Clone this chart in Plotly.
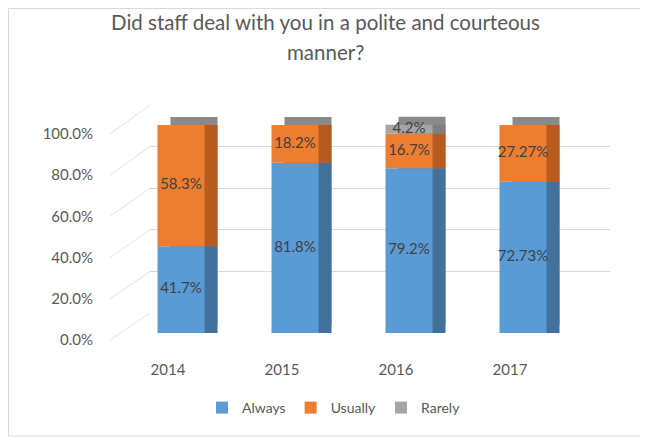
import plotly.graph_objects as go

years = ["2014", "2015", "2016", "2017"]
always = [41.7, 81.8, 79.2, 72.73]
usually = [58.3, 18.2, 16.7, 27.27]
rarely = [0.0, 0.0, 4.2, 0.0]
label_decimals = [1, 1, 1, 2]
series_names = ["Always", "Usually", "Rarely"]
y_ticks = [0, 20, 40, 60, 80, 100]

front_colors = ["#5b9bd5", "#ed7d31", "#a5a5a5"]
side_colors = ["#41719c", "#b85b1f", "#7f7f7f"]
top_color = "#8a8a8a"
FONT = "Lato"
TXT = "#595959"

# the page body has an 8px margin, so the figure is drawn at (8, 8)
OFF = 8
W, H = 648 - OFF, 437 - OFF
def fx(px): return (px - OFF) / W
def fy(py): return 1 - (py - OFF) / H

# pixel geometry (layout only, in window pixels)
CAT_PX = 114.0
BAR_PX = 47.0
Y_PX = 2.08          # px per percent on the bar plane
DX_PX, DY_PX = 13.0, 8.0
bar_w = BAR_PX / CAT_PX
dx = DX_PX / CAT_PX
dy = DY_PX / Y_PX

series = [always, usually, rarely]
n = len(years)
bases = []
cum = [0.0] * n
for s in series:
    bases.append(cum[:])
    cum = [c + v for c, v in zip(cum, s)]
totals = cum

fig = go.Figure()

# back wall subplot (x / y): gridlines only
fig.add_trace(go.Scatter(x=[], y=[], xaxis="x", yaxis="y", showlegend=False, hoverinfo="skip"))

# top faces (back copy of whole stack, shifted right and up)
fig.add_trace(go.Bar(
    x=years, y=totals, base=[dy] * n, width=bar_w, offset=-bar_w / 2 + dx,
    marker=dict(color=top_color, line=dict(width=0)), xaxis="x2", yaxis="y2",
    showlegend=False, hoverinfo="skip"))
# side faces
for s, b, c in zip(series, bases, side_colors):
    fig.add_trace(go.Bar(
        x=years, y=s, base=b, width=bar_w, offset=-bar_w / 2 + dx,
        marker=dict(color=c, line=dict(width=0)), xaxis="x2", yaxis="y2",
        showlegend=False, hoverinfo="skip"))
# front faces
for name, s, b, c in zip(series_names, series, bases, front_colors):
    fig.add_trace(go.Bar(
        x=years, y=s, base=b, width=bar_w, offset=-bar_w / 2,
        marker=dict(color=c, line=dict(width=0)), xaxis="x2", yaxis="y2",
        name=name, showlegend=True))

# data labels
lx, ly, lt = [], [], []
for s, b in zip(series, bases):
    for i in range(n):
        if s[i] > 0:
            lx.append(years[i])
            ly.append(b[i] + s[i] / 2)
            lt.append(f"{s[i]:.{label_decimals[i]}f}%")
fig.add_trace(go.Scatter(
    x=lx, y=ly, text=lt, mode="text", xaxis="x2", yaxis="y2",
    textfont=dict(family=FONT, size=15, color="#404040"),
    showlegend=False, hoverinfo="skip", cliponaxis=False))

# tick-label subplot (x3 / y3)
fig.add_trace(go.Scatter(x=years, y=[None] * n, xaxis="x3", yaxis="y3",
                         showlegend=False, hoverinfo="skip", mode="markers"))

hidden = dict(showgrid=False, zeroline=False, showticklabels=False, ticks="", showline=False,
              automargin=False)

fig.update_layout(
    template="none",
    width=W, height=H,
    margin=dict(l=0, r=0, t=0, b=0, autoexpand=False),
    paper_bgcolor="white", plot_bgcolor="rgba(0,0,0,0)",
    barmode="overlay",
    xaxis=dict(domain=[fx(150), fx(610)], range=[0, 1], anchor="y", **hidden),
    yaxis=dict(domain=[fy(313), fy(105)], range=[0, 100], anchor="x",
               showgrid=True, gridcolor="#d9d9d9", gridwidth=1, dtick=20,
               zeroline=False, showticklabels=False, ticks="", showline=False, automargin=False),
    xaxis2=dict(domain=[fx(124), fx(580)], range=[-0.5, 3.5], type="category",
                anchor="y2", **hidden),
    yaxis2=dict(domain=[fy(333), fy(333 - 110 * Y_PX)], range=[0, 110], anchor="x2", **hidden),
    xaxis3=dict(domain=[fx(111), fx(567)], range=[-0.5, 3.5], type="category", anchor="y3",
                showgrid=False, zeroline=False, showline=False, automargin=False,
                ticks="outside", ticklen=16, tickcolor="rgba(0,0,0,0)",
                tickfont=dict(family=FONT, size=15, color=TXT)),
    yaxis3=dict(domain=[fy(340), fy(134)], range=[0, 100], anchor="x3",
                tickvals=y_ticks, ticktext=[f"{v:.1f}%" for v in y_ticks],
                showgrid=False, zeroline=False, showline=False, automargin=False,
                ticks="outside", ticklen=14, tickcolor="rgba(0,0,0,0)",
                tickfont=dict(family=FONT, size=15, color=TXT)),
    legend=dict(orientation="h", x=fx(334), xanchor="center", y=fy(408), yanchor="middle",
                font=dict(family=FONT, size=14, color=TXT), traceorder="normal",
                itemwidth=30, bgcolor="rgba(0,0,0,0)"),
    showlegend=True,
)

# title (two lines)
fig.add_annotation(text="Did staff deal with you in a polite and courteous", xref="paper", yref="paper",
                   x=fx(325), y=fy(22), xanchor="center", yanchor="middle", showarrow=False,
                   font=dict(family=FONT, size=20.5, color=TXT))
fig.add_annotation(text="manner?", xref="paper", yref="paper",
                   x=fx(325), y=fy(52), xanchor="center", yanchor="middle", showarrow=False,
                   font=dict(family=FONT, size=20.5, color=TXT))

# side-wall diagonal gridlines (front plane -> back wall)
def front_y(v): return 340 - (340 - 134) * v / 100
def back_y(v): return 313 - (313 - 105) * v / 100
for v in y_ticks:
    fig.add_shape(type="line", xref="paper", yref="paper",
                  x0=fx(110), y0=fy(front_y(v)), x1=fx(150), y1=fy(back_y(v)),
                  line=dict(color="#e3e3e3", width=1), layer="below")

# chart border (as close to the window edge as the page allows)
fig.add_shape(type="rect", xref="paper", yref="paper",
              x0=fx(8.5), y0=fy(436), x1=fx(645), y1=fy(8.5),
              line=dict(color="#d9d9d9", width=1), fillcolor="rgba(0,0,0,0)")

fig.write_html("out.html")
